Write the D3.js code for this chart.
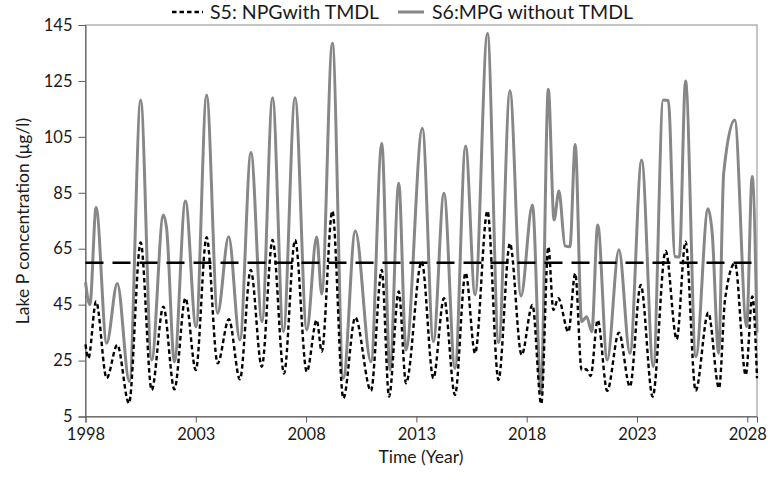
<!DOCTYPE html>
<html>
<head>
<meta charset="utf-8">
<script src="https://cdn.jsdelivr.net/npm/d3@7"></script>
<style>
  body { margin: 0; background: #fff; }
  svg { display: block; font-family: Lato, "Open Sans", sans-serif; }
</style>
</head>
<body>
<div id="chart"></div>
<script>
// S5 (dashed) turning points
const s5Time = [1998.00, 1998.13, 1998.48, 1998.96, 1999.44, 1999.97, 2000.50, 2001.00, 2001.53, 2002.03,
  2002.53, 2003.00, 2003.49, 2003.99, 2004.50, 2005.00, 2005.49, 2005.99, 2006.48, 2007.00,
  2007.50, 2008.03, 2008.48, 2008.71, 2009.19, 2009.69, 2010.23, 2010.94, 2011.43, 2011.76,
  2012.20, 2012.53, 2013.24, 2013.77, 2014.25, 2014.75, 2015.23, 2015.66, 2016.22, 2016.72,
  2017.24, 2017.77, 2018.26, 2018.66, 2018.98, 2019.21, 2019.43, 2019.89, 2020.20, 2020.49,
  2020.70, 2020.90, 2021.22, 2021.65, 2022.18, 2022.68, 2023.17, 2023.71, 2024.30, 2024.80,
  2025.20, 2025.66, 2026.23, 2026.72, 2026.99, 2027.44, 2027.93, 2028.23, 2028.44];
const s5Value = [30.8, 25.8, 46.1, 18.7, 30.6, 9.7, 67.2, 14.5, 44.3, 14.7,
  47.3, 21.6, 69.1, 24.0, 39.8, 18.3, 57.4, 22.8, 68.1, 20.4,
  68.1, 21.0, 39.5, 28.2, 78.5, 11.5, 40.4, 14.2, 57.4, 12.1,
  49.7, 16.9, 60.4, 18.7, 47.3, 12.7, 56.4, 27.6, 78.5, 18.1,
  66.9, 27.0, 44.9, 9.5, 65.7, 43.1, 47.3, 35.3, 56.2, 21.6,
  21.9, 19.5, 39.5, 14.2, 35.0, 15.7, 52.0, 12.1, 64.2, 32.6,
  67.5, 14.2, 42.1, 15.1, 46.7, 59.8, 19.8, 47.9, 18.7];

// S6 (grey) turning points
const s6Time = [1998.00, 1998.20, 1998.48, 1998.96, 1999.44, 1999.99, 2000.50, 2001.00, 2001.53, 2001.68,
  2002.03, 2002.53, 2003.01, 2003.49, 2003.99, 2004.49, 2005.00, 2005.50, 2006.00, 2006.48,
  2006.97, 2007.50, 2008.03, 2008.48, 2008.71, 2009.19, 2009.69, 2010.23, 2010.94, 2011.43,
  2011.80, 2012.20, 2012.53, 2013.27, 2013.77, 2014.25, 2014.75, 2015.23, 2015.66, 2016.22,
  2016.73, 2017.24, 2017.74, 2018.26, 2018.65, 2018.98, 2019.24, 2019.46, 2019.74, 2019.96,
  2020.20, 2020.49, 2020.72, 2020.95, 2021.22, 2021.65, 2022.18, 2022.68, 2023.21, 2023.74,
  2024.19, 2024.42, 2024.72, 2024.92, 2025.20, 2025.67, 2026.22, 2026.41, 2026.70, 2026.93,
  2027.43, 2027.97, 2028.22, 2028.44];
const s6Value = [53.0, 45.0, 79.7, 31.2, 52.6, 17.5, 118.2, 25.2, 77.1, 72.0,
  24.6, 82.1, 37.1, 120.0, 41.9, 69.3, 32.4, 99.4, 38.9, 119.0,
  35.3, 119.0, 36.0, 69.2, 48.8, 138.5, 18.7, 71.3, 24.6, 102.7,
  21.6, 88.4, 28.8, 108.1, 31.8, 84.8, 22.2, 101.7, 48.5, 142.0,
  31.4, 121.5, 48.1, 80.6, 14.0, 122.0, 75.3, 85.6, 66.0, 65.7,
  102.3, 38.9, 40.7, 35.3, 73.5, 25.2, 64.6, 27.6, 96.7, 22.8,
  118.2, 118.0, 62.2, 62.0, 125.0, 26.5, 79.3, 70.5, 27.6, 92.0,
  111.0, 37.1, 90.8, 35.0];

const tmdl = 60;
const xTicks = [1998, 2003, 2008, 2013, 2018, 2023, 2028];
const yTicks = [5, 25, 45, 65, 85, 105, 125, 145];
const xDomain = [1998, 2028.44];
const yDomain = [5, 145];

const width = 772, height = 477;
const margin = {top: 25, right: 15, bottom: 60.5, left: 85.5};
const innerW = width - margin.left - margin.right,
    innerH = height - margin.top - margin.bottom;

const svg = d3.select("#chart").append("svg")
    .attr("width", width)
    .attr("height", height);

const g = svg.append("g")
    .attr("transform", `translate(${margin.left},${margin.top})`);

const x = d3.scaleLinear().domain(xDomain).range([0, innerW]);
const y = d3.scaleLinear().domain(yDomain).range([innerH, 0]);

// plot frame
g.append("rect")
    .attr("width", innerW)
    .attr("height", innerH)
    .attr("fill", "none")
    .attr("stroke", "#8c8c8c")
    .attr("stroke-width", 1);

// axes
const yAxis = g.append("g")
    .call(d3.axisLeft(y).tickValues(yTicks).tickSize(7).tickPadding(6).tickFormat(d3.format("d")));
const xAxis = g.append("g")
    .attr("transform", `translate(0,${innerH})`)
    .call(d3.axisBottom(x).tickValues(xTicks).tickSize(6).tickPadding(6).tickFormat(d3.format("d")));

[yAxis, xAxis].forEach(a => {
  a.select(".domain").attr("stroke", "#595959");
  a.selectAll(".tick line").attr("stroke", "#595959");
  a.selectAll(".tick text")
    .attr("fill", "#1a1a1a")
    .style("font-size", "16.5px")
    .style("font-family", "Lato, sans-serif");
});

const s6Data = s6Time.map((t, i) => ({t: t, v: s6Value[i]}));
const s5Data = s5Time.map((t, i) => ({t: t, v: s5Value[i]}));

const line = d3.line()
    .x(d => x(d.t))
    .y(d => y(d.v))
    .curve(d3.curveMonotoneX);

g.append("path")
    .datum(s6Data)
    .attr("fill", "none")
    .attr("stroke", "#878787")
    .attr("stroke-width", 3)
    .attr("d", line);

g.append("path")
    .datum(s5Data)
    .attr("fill", "none")
    .attr("stroke", "#000")
    .attr("stroke-width", 2.4)
    .attr("stroke-dasharray", "4.5,3")
    .attr("d", line);

// TMDL threshold
g.append("line")
    .attr("x1", x(xDomain[0]))
    .attr("x2", x(xDomain[1]))
    .attr("y1", y(tmdl))
    .attr("y2", y(tmdl))
    .attr("stroke", "#000")
    .attr("stroke-width", 2.4)
    .attr("stroke-dasharray", "18,9");

// axis titles
svg.append("text")
    .attr("x", 421)
    .attr("y", 463)
    .attr("text-anchor", "middle")
    .style("font-size", "17.5px")
    .attr("fill", "#1a1a1a")
    .text("Time (Year)");

svg.append("text")
    .attr("transform", `translate(29,221) rotate(-90)`)
    .attr("text-anchor", "middle")
    .style("font-size", "17.5px")
    .attr("fill", "#1a1a1a")
    .text("Lake P concentration (μg/l)");

// legend
const legend = svg.append("g");
legend.append("line")
    .attr("x1", 172).attr("x2", 203).attr("y1", 12).attr("y2", 12)
    .attr("stroke", "#000").attr("stroke-width", 2.4)
    .attr("stroke-dasharray", "4.5,3");
legend.append("text")
    .attr("x", 210).attr("y", 18.5)
    .style("font-size", "19.5px")
    .attr("fill", "#1a1a1a")
    .text("S5: NPGwith TMDL");
legend.append("line")
    .attr("x1", 398).attr("x2", 424).attr("y1", 12).attr("y2", 12)
    .attr("stroke", "#878787").attr("stroke-width", 3);
legend.append("text")
    .attr("x", 432).attr("y", 18.5)
    .style("font-size", "19.5px")
    .attr("fill", "#1a1a1a")
    .text("S6:MPG without TMDL");
</script>
</body>
</html>
